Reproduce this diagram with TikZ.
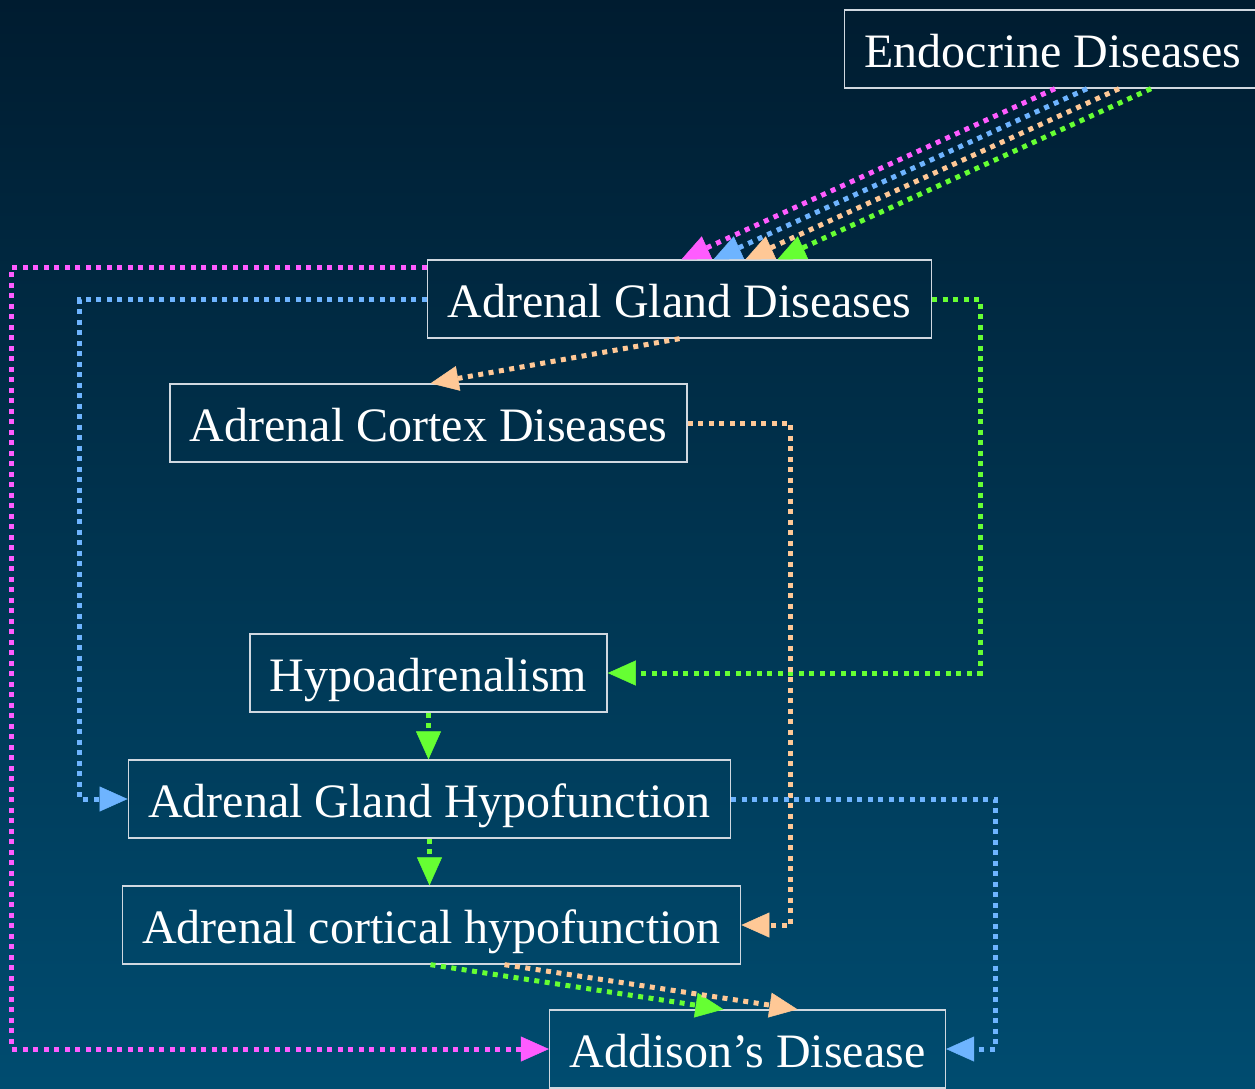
\documentclass[tikz,border=0pt]{standalone}
\usepackage{fontspec}
\setmainfont{Liberation Serif}
\usetikzlibrary{arrows.meta,calc}
\definecolor{bgtop}{RGB}{0,28,48}
\definecolor{bgbot}{RGB}{0,76,112}
\definecolor{epink}{RGB}{255,92,255}
\definecolor{eblue}{RGB}{110,180,255}
\definecolor{epeach}{RGB}{255,200,150}
\definecolor{egreen}{RGB}{102,255,51}
\definecolor{boxline}{RGB}{208,216,224}
\begin{document}
\begin{tikzpicture}[x=1pt,y=-1pt,
  box/.style={draw=boxline,line width=1.3pt,text=white,minimum height=78pt,inner xsep=20pt,
    text height=40pt,text depth=4pt,font=\fontsize{48}{58}\selectfont},
  edge/.style={line width=5pt,dash pattern=on 5pt off 5.5pt,
    -{Triangle[length=28pt,width=25pt,line width=0.5pt]}},
  pinkedge/.style={edge,draw=epink},
  blueedge/.style={edge,draw=eblue},
  peachedge/.style={edge,draw=epeach},
  greenedge/.style={edge,draw=egreen}]
\shade[top color=bgtop,bottom color=bgbot] (0pt,0pt) rectangle (1255pt,-1088pt);
\useasboundingbox (0pt,0pt) rectangle (1255pt,-1088pt);

\node[box] (E) at (1053,49) {Endocrine Diseases};
\node[box] (AGD) at (679.5,299) {Adrenal Gland Diseases};
\node[box] (ACD) at (428.5,423) {Adrenal Cortex Diseases};
\node[box] (HYP) at (428.5,673) {Hypoadrenalism};
\node[box] (AGH) at (429.5,799) {Adrenal Gland Hypofunction};
\node[box] (ACH) at (431.5,925) {Adrenal cortical hypofunction};
\node[box] (ADD) at (747.5,1049) {Addison’s Disease};

% Endocrine -> Adrenal Gland Diseases
\draw[pinkedge]  ($(E.south)+(2,0)$)  -- ($(AGD.north)+(2,0)$);
\draw[blueedge]  ($(E.south)+(34,0)$) -- ($(AGD.north)+(34,0)$);
\draw[peachedge] ($(E.south)+(66,0)$) -- ($(AGD.north)+(66,0)$);
\draw[greenedge] ($(E.south)+(98,0)$) -- ($(AGD.north)+(98,0)$);

% Adrenal Gland Diseases -> ...
\draw[peachedge] (AGD.south) -- ($(ACD.north)+(2,0)$);
\draw[greenedge] (AGD.east) -- ++(48,0) |- (HYP.east);
\draw[blueedge]  (AGD.west) -- ++(-347,0) |- (AGH.west);
\draw[pinkedge]  ($(AGD.north west)+(0,8)$) -- ++(-415,0) |- (ADD.west);

% Adrenal Cortex Diseases -> Adrenal cortical hypofunction
\draw[peachedge] (ACD.east) -- ++(103,0) |- (ACH.east);

% Hypoadrenalism -> Adrenal Gland Hypofunction -> Adrenal cortical hypofunction
\draw[greenedge] (HYP.south) -- (HYP.south |- AGH.north);
\draw[greenedge] (AGH.south) -- (AGH.south |- ACH.north);

% Adrenal Gland Hypofunction -> Addison's
\draw[blueedge] (AGH.east) -- ++(264,0) |- (ADD.east);

% Adrenal cortical hypofunction -> Addison's
\draw[greenedge] ($(ACH.south)+(-1,0)$) -- ($(ADD.north)+(-24,0)$);
\draw[peachedge] ($(ACH.south)+(73,0)$) -- ($(ADD.north)+(50,0)$);
\end{tikzpicture}
\end{document}
